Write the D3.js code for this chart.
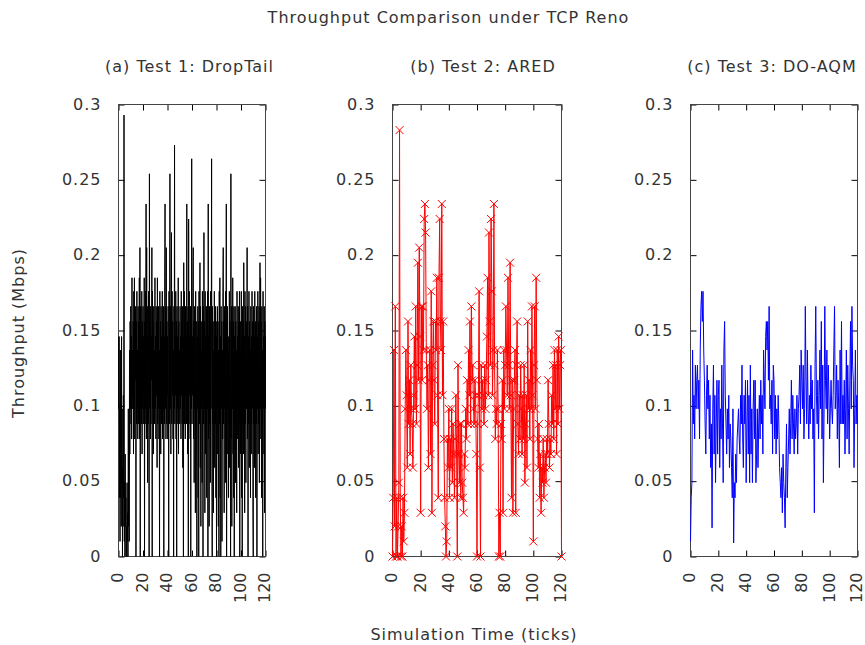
<!DOCTYPE html>
<html>
<head>
<meta charset="utf-8">
<script src="https://cdn.jsdelivr.net/npm/d3@7"></script>
<style>
  body { margin: 0; background: #fff; }
  svg text { font-family: 'DejaVu Sans', sans-serif; fill: #333; }
</style>
</head>
<body>
<div class="chart"></div>
<script>
var W = 865;
var H = 645;

// throughput samples (Mbps), one every quarter tick from 0 to 120
var dropTail = [
  0.146, 0.098, 0.146, 0.039, 0.098, 0.010, 0.137, 0.039, 0.088, 0.020, 0.146, 0.049, 0.098, 0.000, 0.059, 0.020, 0.107, 0.039, 0.293, 0.010,
  0.049, 0.000, 0.068, 0.020, 0.039, 0.000, 0.020, 0.000, 0.049, 0.010, 0.029, 0.000, 0.098, 0.020, 0.078, 0.010, 0.137, 0.068, 0.156, 0.098,
  0.166, 0.088, 0.146, 0.078, 0.185, 0.098, 0.137, 0.107, 0.156, 0.068, 0.176, 0.098, 0.185, 0.078, 0.146, 0.117, 0.166, 0.000, 0.156, 0.088,
  0.176, 0.098, 0.137, 0.078, 0.166, 0.088, 0.156, 0.107, 0.185, 0.078, 0.205, 0.000, 0.166, 0.098, 0.146, 0.088, 0.176, 0.068, 0.156, 0.098,
  0.166, 0.088, 0.146, 0.107, 0.185, 0.000, 0.156, 0.088, 0.176, 0.098, 0.234, 0.078, 0.205, 0.098, 0.166, 0.049, 0.146, 0.088, 0.176, 0.107,
  0.000, 0.254, 0.098, 0.156, 0.078, 0.166, 0.088, 0.146, 0.117, 0.205, 0.000, 0.176, 0.098, 0.156, 0.068, 0.166, 0.098, 0.137, 0.088, 0.185,
  0.098, 0.146, 0.078, 0.166, 0.107, 0.156, 0.059, 0.185, 0.088, 0.146, 0.098, 0.166, 0.078, 0.137, 0.000, 0.176, 0.098, 0.156, 0.068, 0.166,
  0.088, 0.146, 0.107, 0.176, 0.078, 0.156, 0.098, 0.166, 0.000, 0.146, 0.088, 0.185, 0.234, 0.098, 0.166, 0.078, 0.205, 0.088, 0.156, 0.107,
  0.146, 0.078, 0.166, 0.098, 0.000, 0.176, 0.088, 0.156, 0.254, 0.098, 0.166, 0.068, 0.146, 0.215, 0.088, 0.176, 0.107, 0.156, 0.078, 0.137,
  0.000, 0.166, 0.098, 0.273, 0.088, 0.146, 0.107, 0.176, 0.078, 0.156, 0.000, 0.166, 0.098, 0.146, 0.088, 0.185, 0.068, 0.156, 0.107, 0.137,
  0.088, 0.166, 0.098, 0.146, 0.078, 0.176, 0.107, 0.156, 0.088, 0.166, 0.059, 0.146, 0.000, 0.195, 0.098, 0.176, 0.088, 0.156, 0.078, 0.166,
  0.107, 0.146, 0.088, 0.234, 0.098, 0.156, 0.068, 0.166, 0.000, 0.224, 0.088, 0.176, 0.107, 0.146, 0.078, 0.166, 0.000, 0.156, 0.098, 0.264,
  0.088, 0.146, 0.107, 0.176, 0.205, 0.078, 0.156, 0.049, 0.166, 0.098, 0.137, 0.029, 0.176, 0.088, 0.156, 0.068, 0.000, 0.146, 0.098, 0.166,
  0.039, 0.156, 0.000, 0.176, 0.088, 0.146, 0.195, 0.059, 0.166, 0.020, 0.156, 0.098, 0.137, 0.049, 0.176, 0.078, 0.000, 0.166, 0.088, 0.215,
  0.098, 0.156, 0.029, 0.176, 0.068, 0.146, 0.088, 0.166, 0.039, 0.156, 0.098, 0.176, 0.000, 0.234, 0.078, 0.146, 0.020, 0.166, 0.088, 0.156,
  0.049, 0.176, 0.098, 0.146, 0.264, 0.068, 0.000, 0.166, 0.088, 0.156, 0.029, 0.137, 0.098, 0.176, 0.059, 0.146, 0.088, 0.166, 0.039, 0.156,
  0.000, 0.146, 0.098, 0.166, 0.068, 0.156, 0.020, 0.137, 0.000, 0.176, 0.088, 0.185, 0.039, 0.146, 0.000, 0.166, 0.098, 0.156, 0.010, 0.137,
  0.078, 0.176, 0.205, 0.088, 0.156, 0.029, 0.166, 0.098, 0.146, 0.049, 0.176, 0.088, 0.234, 0.000, 0.156, 0.068, 0.166, 0.098, 0.137, 0.039,
  0.146, 0.088, 0.176, 0.059, 0.156, 0.098, 0.000, 0.254, 0.078, 0.166, 0.020, 0.146, 0.098, 0.185, 0.068, 0.156, 0.039, 0.166, 0.000, 0.146,
  0.088, 0.166, 0.049, 0.156, 0.098, 0.137, 0.029, 0.176, 0.078, 0.146, 0.098, 0.166, 0.059, 0.156, 0.088, 0.176, 0.000, 0.137, 0.068, 0.156,
  0.098, 0.176, 0.039, 0.146, 0.000, 0.166, 0.088, 0.156, 0.068, 0.195, 0.098, 0.146, 0.029, 0.176, 0.088, 0.166, 0.049, 0.156, 0.098, 0.137,
  0.205, 0.078, 0.166, 0.000, 0.146, 0.088, 0.176, 0.059, 0.156, 0.098, 0.137, 0.039, 0.166, 0.088, 0.146, 0.068, 0.176, 0.098, 0.156, 0.029,
  0.000, 0.166, 0.088, 0.146, 0.059, 0.176, 0.098, 0.156, 0.039, 0.137, 0.088, 0.166, 0.000, 0.146, 0.098, 0.176, 0.068, 0.156, 0.088, 0.166,
  0.049, 0.146, 0.195, 0.098, 0.185, 0.078, 0.156, 0.039, 0.166, 0.088, 0.137, 0.000, 0.176, 0.098, 0.146, 0.068, 0.166, 0.029, 0.156, 0.098,
  0.146
];

// throughput samples (Mbps), one every half tick from 0 to 120
var ared = [
  0.000, 0.039, 0.137, 0.020, 0.166, 0.000, 0.039, 0.000, 0.020, 0.049,
  0.283, 0.039, 0.000, 0.020, 0.000, 0.039, 0.010, 0.029, 0.098, 0.137,
  0.107, 0.059, 0.156, 0.088, 0.117, 0.068, 0.127, 0.098, 0.088, 0.059,
  0.107, 0.146, 0.098, 0.166, 0.088, 0.127, 0.195, 0.117, 0.205, 0.146,
  0.029, 0.166, 0.117, 0.166, 0.137, 0.224, 0.234, 0.215, 0.137, 0.098,
  0.127, 0.059, 0.117, 0.137, 0.068, 0.176, 0.029, 0.127, 0.156, 0.117,
  0.088, 0.156, 0.137, 0.185, 0.107, 0.039, 0.185, 0.224, 0.156, 0.137,
  0.234, 0.107, 0.156, 0.078, 0.039, 0.020, 0.000, 0.010, 0.078, 0.059,
  0.098, 0.039, 0.078, 0.059, 0.098, 0.049, 0.088, 0.068, 0.039, 0.078,
  0.107, 0.068, 0.000, 0.127, 0.068, 0.049, 0.088, 0.039, 0.088, 0.049,
  0.039, 0.029, 0.068, 0.059, 0.098, 0.078, 0.117, 0.088, 0.137, 0.107,
  0.156, 0.088, 0.166, 0.117, 0.127, 0.098, 0.088, 0.117, 0.107, 0.068,
  0.000, 0.088, 0.107, 0.176, 0.059, 0.000, 0.127, 0.098, 0.117, 0.107,
  0.088, 0.127, 0.098, 0.117, 0.146, 0.185, 0.107, 0.215, 0.156, 0.127,
  0.224, 0.176, 0.107, 0.137, 0.234, 0.127, 0.078, 0.098, 0.088, 0.137,
  0.098, 0.000, 0.029, 0.000, 0.088, 0.078, 0.117, 0.029, 0.137, 0.098,
  0.127, 0.166, 0.137, 0.107, 0.185, 0.127, 0.098, 0.195, 0.107, 0.039,
  0.117, 0.029, 0.098, 0.117, 0.137, 0.029, 0.127, 0.156, 0.088, 0.068,
  0.107, 0.078, 0.127, 0.098, 0.068, 0.107, 0.078, 0.127, 0.049, 0.088,
  0.107, 0.059, 0.156, 0.098, 0.117, 0.078, 0.137, 0.098, 0.166, 0.107,
  0.010, 0.127, 0.166, 0.098, 0.185, 0.117, 0.078, 0.059, 0.088, 0.039,
  0.068, 0.029, 0.059, 0.049, 0.078, 0.039, 0.059, 0.068, 0.049, 0.078,
  0.068, 0.117, 0.088, 0.059, 0.078, 0.068, 0.107, 0.088, 0.127, 0.078,
  0.137, 0.098, 0.127, 0.068, 0.137, 0.088, 0.146, 0.098, 0.127, 0.137,
  0.000
];

// throughput samples (Mbps), one every half tick from 0 to 120
var doAqm = [
  0.010, 0.039, 0.049, 0.137, 0.088, 0.107, 0.078, 0.127, 0.098, 0.117,
  0.127, 0.098, 0.117, 0.078, 0.137, 0.166, 0.176, 0.156, 0.176, 0.137,
  0.117, 0.088, 0.068, 0.107, 0.127, 0.098, 0.117, 0.078, 0.107, 0.059,
  0.088, 0.019, 0.098, 0.127, 0.068, 0.107, 0.049, 0.088, 0.117, 0.068,
  0.107, 0.117, 0.059, 0.098, 0.078, 0.127, 0.088, 0.049, 0.137, 0.156,
  0.107, 0.088, 0.068, 0.098, 0.078, 0.107, 0.059, 0.088, 0.078, 0.059,
  0.039, 0.098, 0.009, 0.049, 0.039, 0.068, 0.049, 0.078, 0.088, 0.098,
  0.078, 0.068, 0.107, 0.088, 0.127, 0.078, 0.059, 0.107, 0.088, 0.117,
  0.049, 0.088, 0.117, 0.068, 0.107, 0.049, 0.127, 0.068, 0.098, 0.049,
  0.098, 0.117, 0.078, 0.117, 0.049, 0.068, 0.098, 0.059, 0.088, 0.107,
  0.078, 0.117, 0.088, 0.107, 0.068, 0.137, 0.117, 0.098, 0.146, 0.156,
  0.137, 0.156, 0.117, 0.166, 0.098, 0.107, 0.088, 0.117, 0.068, 0.127,
  0.117, 0.078, 0.107, 0.068, 0.098, 0.078, 0.107, 0.088, 0.059, 0.049,
  0.039, 0.059, 0.029, 0.068, 0.049, 0.039, 0.019, 0.059, 0.088, 0.039,
  0.059, 0.078, 0.098, 0.068, 0.088, 0.117, 0.078, 0.107, 0.088, 0.068,
  0.098, 0.078, 0.088, 0.107, 0.068, 0.098, 0.107, 0.127, 0.088, 0.137,
  0.117, 0.098, 0.127, 0.078, 0.098, 0.166, 0.117, 0.088, 0.137, 0.098,
  0.078, 0.107, 0.088, 0.127, 0.098, 0.117, 0.078, 0.098, 0.029, 0.127,
  0.166, 0.107, 0.088, 0.117, 0.078, 0.107, 0.137, 0.098, 0.156, 0.078,
  0.127, 0.049, 0.098, 0.166, 0.117, 0.098, 0.137, 0.088, 0.127, 0.107,
  0.078, 0.098, 0.117, 0.098, 0.088, 0.107, 0.137, 0.166, 0.098, 0.107,
  0.127, 0.078, 0.117, 0.098, 0.059, 0.137, 0.088, 0.156, 0.088, 0.107,
  0.088, 0.117, 0.068, 0.098, 0.137, 0.078, 0.127, 0.098, 0.068, 0.117,
  0.156, 0.098, 0.166, 0.127, 0.117, 0.059, 0.098, 0.137, 0.088, 0.107,
  0.088
];

var xTicks = [0, 20, 40, 60, 80, 100, 120];
var yTicks = [0, 0.05, 0.1, 0.15, 0.2, 0.25, 0.3];
var yTickLabels = ['0', '0.05', '0.1', '0.15', '0.2', '0.25', '0.3'];

var panelTitles = ['(a) Test 1: DropTail', '(b) Test 2: ARED', '(c) Test 3: DO-AQM'];
var panelSeries = [dropTail, ared, doAqm];
var panelColors = ['#000000', '#ff0000', '#0000ff'];

// plot frames of the three panels
var panels = [
  { left: 118.5, right: 265.5, titleX: 189.5, marks: false },
  { left: 392.5, right: 561.5, titleX: 483, marks: true },
  { left: 690.5, right: 857.5, titleX: 772, marks: false }
];

var plotTop = 104.5;
var plotBottom = 556.5;

var svg = d3.select('.chart').append('svg').attr('width', W).attr('height', H);

/* ===== TITLES ===== */

svg.append('text')
  .attr('x', 448.5)
  .attr('y', 23)
  .attr('text-anchor', 'middle')
  .style('font-size', '16px')
  .style('letter-spacing', '1px')
  .text('Throughput Comparison under TCP Reno');

svg.append('text')
  .attr('transform', 'translate(24,333) rotate(-90)')
  .attr('text-anchor', 'middle')
  .style('font-size', '16px')
  .style('letter-spacing', '1px')
  .text('Throughput (Mbps)');

svg.append('text')
  .attr('x', 474)
  .attr('y', 640)
  .attr('text-anchor', 'middle')
  .style('font-size', '16px')
  .style('letter-spacing', '1px')
  .text('Simulation Time (ticks)');

/* ===== PANELS ===== */

panels.forEach(function (p, k) {
  var data = panelSeries[k];
  var step = 120 / (data.length - 1);

  var xScale = d3.scaleLinear().domain([0, 120]).range([p.left, p.right]);
  var yScale = d3.scaleLinear().domain([0, 0.3]).range([plotBottom, plotTop]);

  var g = svg.append('g');

  g.append('text')
    .attr('x', p.titleX)
    .attr('y', 72)
    .attr('text-anchor', 'middle')
    .style('font-size', '16px')
    .style('letter-spacing', '1px')
    .text(panelTitles[k]);

  /* ===== AXES ===== */

  var yAxis = d3.axisLeft(yScale)
    .tickValues(yTicks)
    .tickSizeInner(-6)
    .tickSizeOuter(0)
    .tickPadding(17)
    .tickFormat(function (d, i) { return yTickLabels[i]; });

  var yAxisR = d3.axisRight(yScale)
    .tickValues(yTicks)
    .tickSizeInner(-6)
    .tickSizeOuter(0)
    .tickFormat('');

  var xAxis = d3.axisBottom(xScale)
    .tickValues(xTicks)
    .tickSizeInner(-6)
    .tickSizeOuter(0)
    .tickFormat(d3.format('d'));

  var xAxisT = d3.axisTop(xScale)
    .tickValues(xTicks)
    .tickSizeInner(-6)
    .tickSizeOuter(0)
    .tickFormat('');

  var gy = g.append('g').attr('transform', 'translate(' + p.left + ',0)').call(yAxis);
  var gyr = g.append('g').attr('transform', 'translate(' + p.right + ',0)').call(yAxisR);
  var gx = g.append('g').attr('transform', 'translate(0,' + plotBottom + ')').call(xAxis);
  var gxt = g.append('g').attr('transform', 'translate(0,' + plotTop + ')').call(xAxisT);

  [gy, gyr, gx, gxt].forEach(function (a) {
    a.select('.domain').remove();
    a.selectAll('line').attr('stroke', '#000');
    a.selectAll('text')
      .style('font-family', "'DejaVu Sans', sans-serif")
      .style('font-size', '16px')
      .attr('fill', '#333');
  });

  gx.selectAll('text')
    .attr('transform', 'rotate(-90)')
    .attr('text-anchor', 'end')
    .attr('x', -16)
    .attr('y', 0)
    .attr('dy', '0.28em');

  gy.selectAll('text')
    .attr('dy', '0.3em')
    .style('letter-spacing', '1px');

  g.append('rect')
    .attr('x', p.left)
    .attr('y', plotTop)
    .attr('width', p.right - p.left)
    .attr('height', plotBottom - plotTop)
    .attr('fill', 'none')
    .attr('stroke', '#444')
    .attr('stroke-width', 1);

  /* ===== DATA ===== */

  var line = d3.line()
    .x(function (d, i) { return xScale(i * step); })
    .y(function (d) { return yScale(d); });

  g.append('path')
    .datum(data)
    .attr('d', line)
    .attr('fill', 'none')
    .attr('stroke', panelColors[k])
    .attr('stroke-width', 1);

  if (p.marks) {
    g.selectAll('path.mark')
      .data(data)
      .enter()
      .append('path')
      .attr('class', 'mark')
      .attr('transform', function (d, i) {
        return 'translate(' + xScale(i * step) + ',' + yScale(d) + ')';
      })
      .attr('d', 'M-4,-4L4,4M-4,4L4,-4')
      .attr('stroke', panelColors[k])
      .attr('stroke-width', 1)
      .attr('fill', 'none');
  }
});
</script>
</body>
</html>
